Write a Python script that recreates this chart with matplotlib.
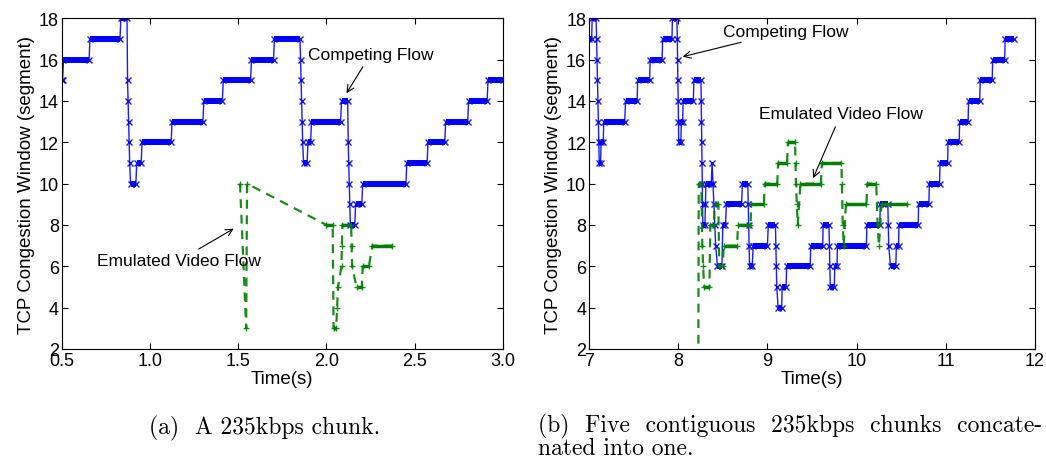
import matplotlib
matplotlib.use("Agg")
import matplotlib.pyplot as plt
from matplotlib.ticker import FormatStrFormatter

plt.rcParams['font.family'] = ['Liberation Sans', 'DejaVu Sans']

# (a) one 235kbps chunk: competing TCP flow
a_comp_t = [0.50, 0.505, 0.51, 0.655, 0.66, 0.83, 0.835, 0.87, 0.873, 0.876, 0.879, 0.882, 0.885,
            0.89, 0.92, 0.925, 0.95, 0.955, 1.12, 1.125, 1.30, 1.305, 1.41, 1.415, 1.57, 1.575,
            1.70, 1.705, 1.85, 1.853, 1.856, 1.859, 1.862, 1.865, 1.87, 1.89, 1.895, 1.91, 1.915,
            2.08, 2.085, 2.12, 2.123, 2.126, 2.129, 2.132, 2.135, 2.16, 2.165, 2.20, 2.205, 2.45,
            2.455, 2.57, 2.575, 2.67, 2.675, 2.80, 2.805, 2.91, 2.915, 3.0]
a_comp_w = [15, 15, 16, 16, 17, 17, 18, 18, 15, 14, 13, 12, 11,
            10, 10, 11, 11, 12, 12, 13, 13, 14, 14, 15, 15, 16,
            16, 17, 17, 16, 15, 14, 13, 12, 11, 11, 12, 12, 13,
            13, 14, 14, 12, 11, 10, 9, 8, 8, 9, 9, 10, 10,
            11, 11, 12, 12, 13, 13, 14, 14, 15, 15]

# (a) emulated video flow
a_video_t = [1.51, 1.545, 1.55, 2.00, 2.035, 2.04, 2.055, 2.06, 2.065, 2.085, 2.087, 2.09, 2.14,
             2.142, 2.145, 2.17, 2.20, 2.205, 2.24, 2.26, 2.37]
a_video_w = [10, 3, 10, 8, 8, 3, 3, 4, 5, 6, 7, 8, 8,
             7, 6, 5, 5, 6, 6, 7, 7]

# (b) five chunks concatenated: competing TCP flow
b_comp_t = [7.00, 7.03, 7.035, 7.08, 7.085, 7.09, 7.095, 7.10, 7.105, 7.11, 7.115, 7.13, 7.135,
            7.16, 7.165, 7.40, 7.41, 7.54, 7.545, 7.68, 7.685, 7.82, 7.825, 7.93, 7.935, 7.985,
            7.99, 7.993, 7.996, 8.0, 8.003, 8.006, 8.03, 8.035, 8.05, 8.055, 8.17, 8.175, 8.255,
            8.258, 8.261, 8.264, 8.267, 8.27, 8.273, 8.276, 8.30, 8.305, 8.31, 8.37, 8.38, 8.39,
            8.40, 8.41, 8.42, 8.44, 8.49, 8.50, 8.53, 8.54, 8.71, 8.72, 8.78, 8.785, 8.79, 8.795,
            8.80, 8.83, 8.84, 9.00, 9.01, 9.09, 9.095, 9.10, 9.105, 9.12, 9.16, 9.165, 9.21, 9.215,
            9.48, 9.485, 9.62, 9.625, 9.69, 9.695, 9.70, 9.705, 9.75, 9.755, 9.78, 9.785, 10.11,
            10.115, 10.26, 10.265, 10.35, 10.355, 10.36, 10.38, 10.44, 10.445, 10.47, 10.475, 10.69,
            10.695, 10.81, 10.815, 10.93, 10.935, 11.02, 11.025, 11.15, 11.155, 11.25, 11.255,
            11.38, 11.385, 11.52, 11.525, 11.66, 11.665, 11.76]
b_comp_w = [17, 17, 18, 18, 17, 16, 15, 14, 13, 12, 11, 11, 12,
            12, 13, 13, 14, 14, 15, 15, 16, 16, 17, 17, 18, 18,
            17, 16, 15, 14, 13, 12, 12, 13, 13, 14, 14, 15, 15,
            14, 13, 12, 11, 10, 9, 8, 8, 9, 10, 10, 11, 10,
            9, 8, 7, 6, 6, 8, 8, 9, 9, 10, 10, 9, 8, 7,
            6, 6, 7, 7, 8, 8, 7, 6, 5, 4, 4, 5, 5, 6,
            6, 7, 7, 8, 8, 7, 6, 5, 5, 6, 6, 7, 7,
            8, 8, 9, 9, 8, 7, 6, 6, 7, 7, 8, 8,
            9, 9, 10, 10, 11, 11, 12, 12, 13, 13, 14,
            14, 15, 15, 16, 16, 17, 17]

# (b) emulated video flow
b_video_t = [8.225, 8.23, 8.26, 8.27, 8.28, 8.29, 8.35, 8.36, 8.40, 8.41, 8.45, 8.46, 8.50,
             8.51, 8.66, 8.67, 8.81, 8.82, 8.96, 8.97, 9.11, 9.12, 9.22, 9.23, 9.31, 9.315,
             9.32, 9.33, 9.34, 9.37, 9.60, 9.61, 9.83, 9.835, 9.845, 9.855, 9.88, 10.11, 10.12,
             10.22, 10.235, 10.25, 10.28, 10.57]
b_video_w = [0, 10, 10, 7, 6, 5, 5, 8, 8, 9, 9, 6, 6,
             7, 7, 8, 8, 9, 9, 10, 10, 11, 11, 12, 12, 11,
             10, 9, 8, 10, 10, 11, 11, 10, 8, 7, 9, 9, 10,
             10, 8, 7, 9, 9]

a_xticks = [0.5, 1.0, 1.5, 2.0, 2.5, 3.0]
b_xticks = [7, 8, 9, 10, 11, 12]
yticks = [2, 4, 6, 8, 10, 12, 14, 16, 18]

BLUE = '#0000ff'
GREEN = '#008000'


def draw_trace(ax, t, w, color, ls, marker, bar_lw):
    ax.plot(t, w, ls=ls, color=color, lw=1.0 if ls == '-' else 1.6, marker=marker,
            ms=5, mew=1.0, alpha=0.9, dashes=(4, 3) if ls == '--' else (None, None))
    # dense samples on a plateau look like a solid bar
    for i in range(len(t) - 1):
        if w[i] == w[i + 1] and t[i + 1] - t[i] > 0.008:
            ax.plot([t[i], t[i + 1]], [w[i], w[i + 1]], color=color, lw=bar_lw,
                    solid_capstyle='butt')


def style_axes(ax, xlim, xticks):
    ax.set_xlim(*xlim)
    ax.set_ylim(2, 18)
    ax.set_xticks(xticks)
    ax.set_yticks(yticks)
    ax.tick_params(direction='in', top=True, right=True, length=4, labelsize=13, pad=2)
    ax.set_xlabel('Time(s)', fontsize=13.5, labelpad=1)
    ax.set_ylabel('TCP Congestion Window (segment)', fontsize=13.5, labelpad=3)
    for s in ax.spines.values():
        s.set_linewidth(0.8)


fig = plt.figure(figsize=(10.46, 4.64), dpi=100)
ax1 = fig.add_axes([0.059, 0.2457, 0.4219, 0.7127])
ax2 = fig.add_axes([0.5631, 0.2457, 0.4264, 0.7127])

draw_trace(ax1, a_comp_t, a_comp_w, BLUE, '-', 'x', 4.3)
draw_trace(ax1, a_video_t, a_video_w, GREEN, '--', '+', 2.5)
style_axes(ax1, (0.5, 3.0), a_xticks)
ax1.xaxis.set_major_formatter(FormatStrFormatter('%.1f'))

draw_trace(ax2, b_comp_t, b_comp_w, BLUE, '-', 'x', 4.3)
draw_trace(ax2, b_video_t, b_video_w, GREEN, '--', '+', 2.5)
style_axes(ax2, (7, 12), b_xticks)

arrow = dict(arrowstyle='->', color='black', lw=0.8)
ax1.annotate('Competing Flow', xy=(2.105, 14.26), xytext=(1.895, 16.27), fontsize=12.5,
             va='center', arrowprops=arrow)
ax1.annotate('Emulated Video Flow', xy=(1.488, 7.89), xytext=(0.698, 6.27), fontsize=12.5,
             va='center', arrowprops=arrow)
ax2.annotate('Competing Flow', xy=(8.02, 16.11), xytext=(8.50, 17.37), fontsize=12.5,
             va='center', arrowprops=arrow)
ax2.annotate('Emulated Video Flow', xy=(9.50, 10.14), xytext=(8.906, 13.37), fontsize=12.5,
             va='center', arrowprops=arrow)

cap = dict(fontsize=17, family=['cmr10', 'DejaVu Serif'])
fig.text(265 / 1046, 1 - 428 / 464, '(a)  A 235kbps chunk.', ha='center', va='center', **cap)
fig.text(538 / 1046, 1 - 426 / 464, '(b)  Five  contiguous  235kbps  chunks  concate-', ha='left',
         va='center', **cap)
fig.text(538 / 1046, 1 - 449 / 464, 'nated into one.', ha='left', va='center', **cap)

fig.savefig('out.png', dpi=100)
